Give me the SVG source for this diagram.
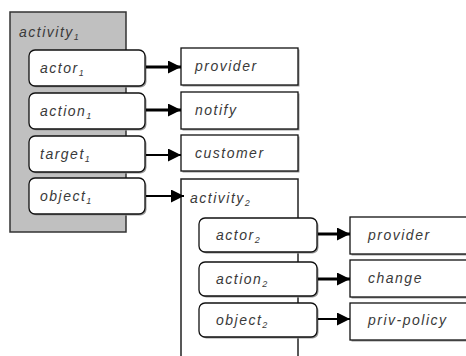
<svg xmlns="http://www.w3.org/2000/svg" width="466" height="356" viewBox="0 0 466 356">
  <defs>
    <marker id="head" viewBox="0 0 10 10" refX="10" refY="5" markerUnits="userSpaceOnUse" markerWidth="15" markerHeight="13" orient="auto">
      <path d="M0,0 L10,5 L0,10 z" fill="#000"/>
    </marker>
  </defs>
  <style>
    text { font-family: "Liberation Sans", Arial, sans-serif; font-style: italic; font-size: 14px; letter-spacing: 1.5px; fill: #3a3a3a; }
    .sub { font-size: 9px; letter-spacing: 0; }
    .frame { fill: #c0c0c0; stroke: #333; stroke-width: 1.5; }
    .frame2 { fill: #fff; stroke: #222; stroke-width: 1.5; }
    .slot { fill: #fff; stroke: #111; stroke-width: 1.3; }
    .val { fill: #fff; stroke: #111; stroke-width: 1.3; }
    .shade { fill: #9a9a9a; }
    .thick { stroke: #000; stroke-width: 3; fill: none; marker-end: url(#head); }
    .thin { stroke: #000; stroke-width: 2; fill: none; marker-end: url(#head); }
  </style>

  <!-- outer frame: activity 1 -->
  <g id="activity1">
    <rect class="frame" x="10" y="12" width="116" height="220"/>
    <text x="19" y="37">activity<tspan class="sub" dy="3">1</tspan></text>
  </g>

  <!-- slots of activity 1 -->
  <g id="actor1">
    <rect class="shade" x="30.5" y="51.5" width="116" height="36" rx="6"/>
    <rect class="slot" x="29" y="50" width="116" height="36" rx="6"/>
    <text x="40" y="73">actor<tspan class="sub" dy="3">1</tspan></text>
  </g>
  <g id="action1">
    <rect class="shade" x="30.5" y="94.5" width="116" height="36" rx="6"/>
    <rect class="slot" x="29" y="93" width="116" height="36" rx="6"/>
    <text x="40" y="116">action<tspan class="sub" dy="3">1</tspan></text>
  </g>
  <g id="target1">
    <rect class="shade" x="30.5" y="137.5" width="116" height="36" rx="6"/>
    <rect class="slot" x="29" y="136" width="116" height="36" rx="6"/>
    <text x="40" y="159">target<tspan class="sub" dy="3">1</tspan></text>
  </g>
  <g id="object1">
    <rect class="shade" x="30.5" y="179.5" width="116" height="36" rx="6"/>
    <rect class="slot" x="29" y="178" width="116" height="36" rx="6"/>
    <text x="40" y="201">object<tspan class="sub" dy="3">1</tspan></text>
  </g>

  <!-- values of activity 1 -->
  <g id="provider1">
    <rect class="shade" x="182.5" y="49.5" width="117" height="37"/>
    <rect class="val" x="181" y="48" width="117" height="37"/>
    <text x="195" y="71">provider</text>
  </g>
  <g id="notify">
    <rect class="shade" x="182.5" y="93.5" width="117" height="37"/>
    <rect class="val" x="181" y="92" width="117" height="37"/>
    <text x="195" y="115">notify</text>
  </g>
  <g id="customer">
    <rect class="shade" x="182.5" y="136.5" width="117" height="36"/>
    <rect class="val" x="181" y="135" width="117" height="36"/>
    <text x="195" y="158">customer</text>
  </g>

  <!-- nested frame: activity 2 -->
  <g id="activity2">
    <rect class="frame2" x="181" y="179" width="117" height="200"/>
    <text x="190" y="203">activity<tspan class="sub" dy="3">2</tspan></text>
  </g>
  <g id="actor2">
    <rect class="shade" x="200.5" y="219.5" width="118" height="34" rx="6"/>
    <rect class="slot" x="199" y="218" width="118" height="34" rx="6"/>
    <text x="216" y="240">actor<tspan class="sub" dy="3">2</tspan></text>
  </g>
  <g id="action2">
    <rect class="shade" x="200.5" y="263.5" width="118" height="34" rx="6"/>
    <rect class="slot" x="199" y="262" width="118" height="34" rx="6"/>
    <text x="216" y="284">action<tspan class="sub" dy="3">2</tspan></text>
  </g>
  <g id="object2">
    <rect class="shade" x="200.5" y="304.5" width="118" height="34" rx="6"/>
    <rect class="slot" x="199" y="303" width="118" height="34" rx="6"/>
    <text x="216" y="325">object<tspan class="sub" dy="3">2</tspan></text>
  </g>

  <!-- values of activity 2 -->
  <g id="provider2">
    <rect class="shade" x="351.5" y="218.5" width="130" height="37"/>
    <rect class="val" x="350" y="217" width="130" height="37"/>
    <text x="368" y="240">provider</text>
  </g>
  <g id="change">
    <rect class="shade" x="351.5" y="261.5" width="130" height="37"/>
    <rect class="val" x="350" y="260" width="130" height="37"/>
    <text x="368" y="283">change</text>
  </g>
  <g id="privpolicy">
    <rect class="shade" x="351.5" y="304.5" width="130" height="37"/>
    <rect class="val" x="350" y="303" width="130" height="37"/>
    <text x="368" y="325">priv-policy</text>
  </g>

  <!-- connectors -->
  <g id="connectors">
    <line class="thick" x1="146" y1="67" x2="181" y2="67"/>
    <line class="thick" x1="146" y1="110" x2="181" y2="110"/>
    <line class="thin" x1="146" y1="155" x2="181" y2="155"/>
    <line class="thin" x1="146" y1="196" x2="184" y2="196"/>
    <line class="thick" x1="318" y1="234" x2="350" y2="234"/>
    <line class="thick" x1="318" y1="279" x2="350" y2="279"/>
    <line class="thin" x1="318" y1="319" x2="350" y2="319"/>
  </g>
</svg>
